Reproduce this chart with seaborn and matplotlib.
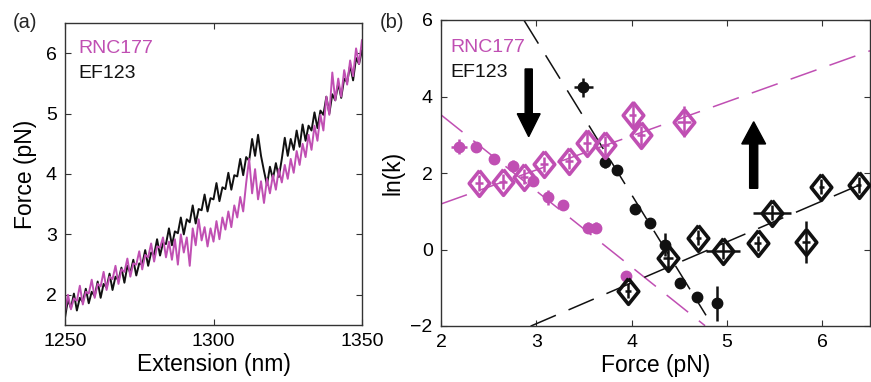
import numpy as np
import pandas as pd
import matplotlib
matplotlib.use("Agg")
import matplotlib.pyplot as plt
import seaborn as sns

sns.set_theme(style="ticks")
plt.rcParams["font.family"] = ["Liberation Sans", "DejaVu Sans"]

MAGENTA = "#C04FB3"
BLACK = "#111111"

# ---------------- (a) force-extension traces ----------------
extension_nm = [
    1250, 1251, 1252, 1253, 1254, 1255, 1256, 1257, 1258, 1259,
    1260, 1261, 1262, 1263, 1264, 1265, 1266, 1267, 1268, 1269,
    1270, 1271, 1272, 1273, 1274, 1275, 1276, 1277, 1278, 1279,
    1280, 1281, 1282, 1283, 1284, 1285, 1286, 1287, 1288, 1289,
    1290, 1291, 1292, 1293, 1294, 1295, 1296, 1297, 1298, 1299,
    1300, 1301, 1302, 1303, 1304, 1305, 1306, 1307, 1308, 1309,
    1310, 1311, 1312, 1313, 1314, 1315, 1316, 1317, 1318, 1319,
    1320, 1321, 1322, 1323, 1324, 1325, 1326, 1327, 1328, 1329,
    1330, 1331, 1332, 1333, 1334, 1335, 1336, 1337, 1338, 1339,
    1340, 1341, 1342, 1343, 1344, 1345, 1346, 1347, 1348, 1349,
    1350,
]

force_ef123 = [
    1.62, 1.92, 1.78, 2.02, 1.74, 1.95, 1.88, 2.10, 1.86, 2.05,
    1.98, 2.22, 1.95, 2.18, 2.12, 2.35, 2.08, 2.30, 2.24, 2.45,
    2.20, 2.48, 2.36, 2.58, 2.32, 2.52, 2.50, 2.74, 2.48, 2.70,
    2.66, 2.92, 2.65, 2.86, 2.84, 3.10, 2.82, 3.05, 3.02, 3.28,
    3.00, 3.25, 3.20, 3.48, 3.18, 3.42, 3.40, 3.66, 3.38, 3.60,
    3.58, 3.85, 3.55, 3.78, 3.75, 4.02, 3.74, 3.98, 3.96, 4.25,
    3.98, 4.28, 4.22, 4.58, 4.30, 4.65, 4.30, 4.05, 3.82, 4.12,
    3.92, 4.18, 3.95, 4.25, 4.60, 4.30, 4.58, 4.40, 4.72, 4.45,
    4.82, 4.55, 4.80, 4.72, 5.02, 4.76, 5.05, 4.98, 5.28, 5.00,
    5.32, 5.22, 5.50, 5.26, 5.58, 5.52, 5.80, 5.55, 5.92, 5.82,
    6.05,
]

force_rnc177 = [
    1.72, 2.00, 1.76, 1.94, 1.90, 2.15, 1.84, 2.05, 2.02, 2.25,
    1.95, 2.18, 2.14, 2.38, 2.08, 2.30, 2.26, 2.48, 2.18, 2.42,
    2.38, 2.60, 2.30, 2.52, 2.50, 2.72, 2.42, 2.66, 2.62, 2.85,
    2.55, 2.80, 2.78, 2.95, 2.62, 2.88, 2.58, 2.92, 2.50, 3.00,
    2.70, 2.95, 2.48, 3.10, 2.82, 3.25, 2.90, 3.12, 2.80, 3.10,
    2.88, 3.22, 2.92, 3.28, 3.08, 3.38, 3.12, 3.48, 3.28, 3.62,
    3.38, 3.85, 4.25, 3.68, 4.08, 3.58, 3.88, 3.52, 3.92, 3.68,
    3.98, 3.74, 4.08, 3.86, 4.15, 3.92, 4.25, 4.02, 4.38, 4.15,
    4.50, 4.28, 4.65, 4.40, 4.80, 4.55, 4.98, 4.72, 5.28, 4.98,
    5.68, 5.22, 5.58, 5.28, 5.72, 5.48, 5.88, 5.62, 6.08, 5.82,
    6.22,
]

# ---------------- (b) ln(k) versus force ----------------
# RNC177, open diamonds (rising rate)
rnc_up_force = [2.40, 2.65, 2.87, 3.08, 3.34, 3.53, 3.72, 4.01, 4.10, 4.55]
rnc_up_lnk = [1.74, 1.77, 1.90, 2.23, 2.31, 2.79, 2.73, 3.52, 2.99, 3.34]
rnc_up_ferr = [0.04, 0.04, 0.04, 0.04, 0.04, 0.04, 0.04, 0.04, 0.04, 0.07]
rnc_up_kerr = [0.20, 0.20, 0.20, 0.20, 0.20, 0.25, 0.25, 0.35, 0.25, 0.40]

# RNC177, filled circles (falling rate)
rnc_down_force = [2.19, 2.37, 2.56, 2.75, 2.96, 3.12, 3.28, 3.54, 3.63, 3.94]
rnc_down_lnk = [2.69, 2.69, 2.36, 2.19, 1.79, 1.36, 1.16, 0.57, 0.57, -0.69]
rnc_down_ferr = [0.08, 0.03, 0.03, 0.03, 0.03, 0.03, 0.03, 0.04, 0.04, 0.02]
rnc_down_kerr = [0.20, 0.10, 0.12, 0.15, 0.10, 0.20, 0.10, 0.15, 0.15, 0.08]

# EF123, filled circles (falling rate)
ef_down_force = [3.49, 3.72, 3.85, 4.03, 4.19, 4.35, 4.51, 4.69, 4.90]
ef_down_lnk = [4.24, 2.28, 2.08, 1.06, 0.68, 0.12, -0.88, -1.25, -1.41]
ef_down_ferr = [0.10, 0.02, 0.02, 0.02, 0.02, 0.02, 0.02, 0.02, 0.02]
ef_down_kerr = [0.25, 0.15, 0.10, 0.10, 0.08, 0.30, 0.10, 0.10, 0.45]

# EF123, open diamonds (rising rate)
ef_up_force = [3.96, 4.38, 4.70, 4.96, 5.32, 5.47, 5.83, 5.99, 6.38]
ef_up_lnk = [-1.08, -0.21, 0.31, -0.04, 0.16, 0.96, 0.19, 1.64, 1.69]
ef_up_ferr = [0.03, 0.05, 0.03, 0.18, 0.04, 0.20, 0.04, 0.03, 0.03]
ef_up_kerr = [0.20, 0.30, 0.20, 0.20, 0.20, 0.20, 0.55, 0.20, 0.20]

# Linear fits: (slope, intercept, force range, colour)
fits = [
    (0.89, -0.59, (2.00, 6.50), MAGENTA),
    (-1.99, 7.50, (2.00, 4.77), MAGENTA),
    (-4.04, 17.59, (2.87, 4.78), BLACK),
    (1.07, -5.15, (2.94, 6.50), BLACK),
]

W, H = 871, 382
fig = plt.figure(figsize=(W / 100, H / 100), dpi=100)


def px_axes(left, top, right, bottom):
    return fig.add_axes([left / W, 1 - bottom / H, (right - left) / W, (bottom - top) / H])


def style_axes(ax):
    ax.tick_params(direction="in", length=4, width=0.8, top=True, right=True,
                   labelsize=14, pad=6, colors="#333333", labelcolor="black")
    for s in ax.spines.values():
        s.set_visible(True)
        s.set_color("#333333")
        s.set_linewidth(1.0)


# ---- panel (a)
ax1 = px_axes(65, 23, 362, 325)
df_ef = pd.DataFrame({"ext": extension_nm, "force": force_ef123})
df_rnc = pd.DataFrame({"ext": extension_nm, "force": force_rnc177})
sns.lineplot(data=df_ef, x="ext", y="force", sort=False, estimator=None,
             color=BLACK, lw=1.4, ax=ax1)
sns.lineplot(data=df_rnc, x="ext", y="force", sort=False, estimator=None,
             color=MAGENTA, lw=1.4, ax=ax1)
ax1.set_xlim(1250, 1350)
ax1.set_ylim(1.5, 6.5)
ax1.set_xticks([1250, 1300, 1350])
ax1.set_yticks([2, 3, 4, 5, 6])
ax1.set_xlabel("Extension (nm)", fontsize=16.5, labelpad=2, color="black")
ax1.set_ylabel("Force (pN)", fontsize=16.5, labelpad=6, color="black")
style_axes(ax1)
ax1.text(0.044, 0.90, "RNC177", color=MAGENTA, fontsize=14, transform=ax1.transAxes, va="baseline")
ax1.text(0.044, 0.818, "EF123", color=BLACK, fontsize=14, transform=ax1.transAxes, va="baseline")

# ---- panel (b)
ax2 = px_axes(441, 20, 870, 326)
for slope, intercept, (f0, f1), col in fits:
    df_fit = pd.DataFrame({"f": [f0, f1], "k": [slope * f0 + intercept, slope * f1 + intercept]})
    sns.lineplot(data=df_fit, x="f", y="k", color=col, lw=1.1, ax=ax2,
                 dashes=False, estimator=None, sort=False, linestyle=(0, (18, 9)))

diamond = [(0, 1.25), (1, 0), (0, -1.25), (-1, 0), (0, 1.25)]


def points(fx, ky, fe, ke, col, marker, ms, filled):
    ax2.errorbar(fx, ky, xerr=fe, yerr=ke, fmt="none", ecolor=col, elinewidth=1.8, capsize=0, zorder=3)
    if filled:
        ax2.plot(fx, ky, linestyle="none", marker=marker, ms=ms, mfc=col, mec=col, zorder=4)
    else:
        ax2.plot(fx, ky, linestyle="none", marker=marker, ms=ms, mfc="none", mec=col,
                 mew=2.6, zorder=4)


points(rnc_down_force, rnc_down_lnk, rnc_down_ferr, rnc_down_kerr, MAGENTA, "o", 7.5, True)
points(ef_down_force, ef_down_lnk, ef_down_ferr, ef_down_kerr, BLACK, "o", 7.5, True)
points(rnc_up_force, rnc_up_lnk, rnc_up_ferr, rnc_up_kerr, MAGENTA, diamond, 18.5, False)
points(ef_up_force, ef_up_lnk, ef_up_ferr, ef_up_kerr, BLACK, diamond, 18.5, False)

ax2.arrow(2.92, 4.72, 0, -1.77, width=0.075, head_width=0.24, head_length=0.6,
          length_includes_head=True, color="black", zorder=5)
ax2.arrow(5.28, 1.60, 0, 1.74, width=0.085, head_width=0.25, head_length=0.58,
          length_includes_head=True, color="black", zorder=5)

ax2.set_xlim(2, 6.5)
ax2.set_ylim(-2, 6)
ax2.set_xticks([2, 3, 4, 5, 6])
ax2.set_yticks([-2, 0, 2, 4, 6])
ax2.set_xlabel("Force (pN)", fontsize=16.5, labelpad=2, color="black")
ax2.set_ylabel("ln(k)", fontsize=16.5, labelpad=4, color="black")
style_axes(ax2)
ax2.text(0.021, 0.895, "RNC177", color=MAGENTA, fontsize=14, transform=ax2.transAxes, va="baseline")
ax2.text(0.021, 0.814, "EF123", color=BLACK, fontsize=14, transform=ax2.transAxes, va="baseline")

fig.text(13 / W, 1 - 22 / H, "(a)", fontsize=14.5, va="center", ha="left")
fig.text(380 / W, 1 - 22 / H, "(b)", fontsize=14.5, va="center", ha="left")

fig.savefig("out.png", dpi=100)
